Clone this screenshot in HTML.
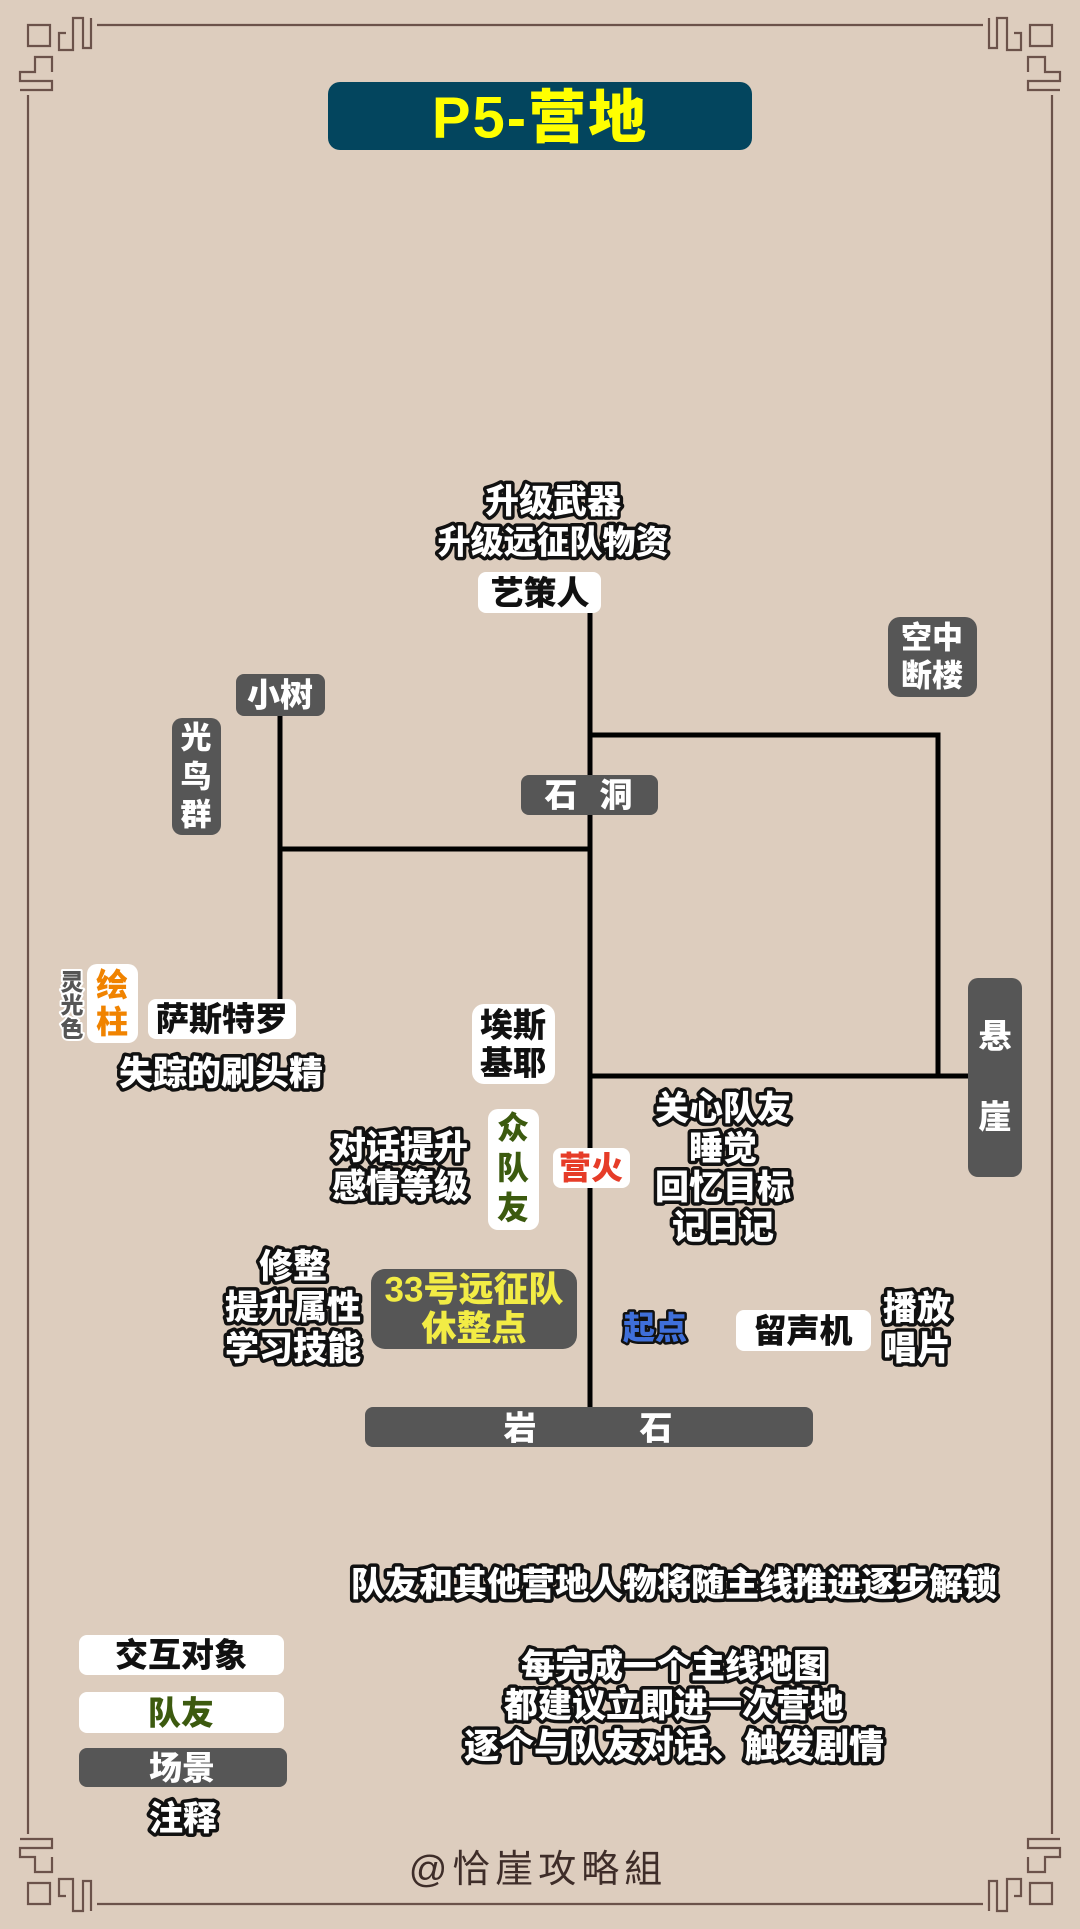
<!DOCTYPE html>
<html><head><meta charset="utf-8">
<style>
html,body{margin:0;padding:0;background:#ddcdbe;}
svg{display:block;}
text{font-family:"Liberation Sans","Noto Sans CJK SC","WenQuanYi Zen Hei",sans-serif;font-weight:900;text-anchor:middle;dominant-baseline:central;}
.o{fill:#fff;stroke:#111;stroke-width:7px;paint-order:stroke;stroke-linejoin:round;font-size:34px;}
.k{fill:#111;font-size:33px;}
.w{fill:#fff;font-size:33px;}
.orn{fill:none;stroke:#6b524a;stroke-width:2.2;}
</style></head>
<body>
<svg width="1080" height="1929" viewBox="0 0 1080 1929" xmlns="http://www.w3.org/2000/svg">
<rect width="1080" height="1929" fill="#ddcdbe"/>

<!-- border -->
<g class="orn">
  <path d="M97,25 H983"/>
  <path d="M97,1904 H983"/>
  <path d="M28,95 V1834"/>
  <path d="M1052,95 V1834"/>
</g>
<g id="corner" class="orn">
  <path d="M28,46 V25 H50 V46 Z"/>
  <path d="M66,33 H59 V50 H73 V18 H83 V48 H91 V18"/>
  <path d="M52,72 V57 H35 V72 H20 V81 H52 V90 H20"/>
</g>
<use href="#corner" transform="translate(1080,0) scale(-1,1)"/>
<use href="#corner" transform="translate(0,1929) scale(1,-1)"/>
<use href="#corner" transform="translate(1080,1929) scale(-1,-1)"/>

<!-- title -->
<rect x="328" y="82" width="424" height="68" rx="12" fill="#03455e"/>
<text x="540" y="118" fill="#ffff00" font-size="58" letter-spacing="2">P5-营地</text>

<!-- connectors -->
<g stroke="#000" stroke-width="5" fill="none">
  <path d="M590,613 V1407"/>
  <path d="M590,735 H938 V1076"/>
  <path d="M590,1076 H968"/>
  <path d="M280,716 V999"/>
  <path d="M280,849 H590"/>
</g>

<!-- top -->
<text class="o" x="553" y="502">升级武器</text>
<text class="o" x="553" y="542" style="font-size:33px">升级远征队物资</text>
<rect x="478" y="572" width="123" height="41" rx="8" fill="#fff"/>
<text class="k" x="540" y="593">艺策人</text>

<!-- 空中断楼 -->
<rect x="888" y="617" width="89" height="80" rx="12" fill="#565656"/>
<text class="w" x="932" y="638" style="font-size:31px">空中</text>
<text class="w" x="932" y="676" style="font-size:31px">断楼</text>

<!-- 石洞 -->
<rect x="521" y="775" width="137" height="40" rx="8" fill="#565656"/>
<text class="w" x="561" y="795">石</text>
<text class="w" x="616" y="795">洞</text>

<!-- 小树 -->
<rect x="236" y="674" width="89" height="42" rx="8" fill="#565656"/>
<text class="w" x="280" y="695">小树</text>

<!-- 光鸟群 -->
<rect x="172" y="718" width="49" height="117" rx="10" fill="#565656"/>
<text class="w" x="196" y="738" style="font-size:31px">光</text>
<text class="w" x="196" y="777" style="font-size:31px">鸟</text>
<text class="w" x="196" y="815" style="font-size:31px">群</text>

<!-- 灵光色 -->
<g style="fill:#555;stroke:#fff;stroke-width:4px;paint-order:stroke;stroke-linejoin:round;">
<text x="72" y="982" font-size="23">灵</text>
<text x="72" y="1005" font-size="23">光</text>
<text x="72" y="1029" font-size="23">色</text>
</g>

<!-- 绘柱 -->
<rect x="87" y="964" width="51" height="79" rx="10" fill="#fff"/>
<text x="112" y="985" fill="#f08300" font-size="32">绘</text>
<text x="112" y="1022" fill="#f08300" font-size="32">柱</text>

<!-- 萨斯特罗 -->
<rect x="148" y="999" width="148" height="40" rx="8" fill="#fff"/>
<text class="k" x="222" y="1019">萨斯特罗</text>
<text class="o" x="221" y="1074">失踪的刷头精</text>

<!-- 埃斯基耶 -->
<rect x="472" y="1004" width="83" height="80" rx="12" fill="#fff"/>
<text class="k" x="513" y="1025">埃斯</text>
<text class="k" x="513" y="1063">基耶</text>

<!-- 众队友 -->
<rect x="488" y="1109" width="51" height="121" rx="10" fill="#fff"/>
<text x="513" y="1128" fill="#3c5a0f" font-size="32">众</text>
<text x="513" y="1168" fill="#3c5a0f" font-size="32">队</text>
<text x="513" y="1208" fill="#3c5a0f" font-size="32">友</text>

<text class="o" x="400" y="1148">对话提升</text>
<text class="o" x="400" y="1187">感情等级</text>

<!-- 营火 -->
<rect x="553" y="1148" width="77" height="40" rx="8" fill="#fff"/>
<text x="591" y="1168" fill="#e63c28" font-size="32">营火</text>

<text class="o" x="723" y="1109">关心队友</text>
<text class="o" x="723" y="1149">睡觉</text>
<text class="o" x="723" y="1188">回忆目标</text>
<text class="o" x="723" y="1228">记日记</text>

<!-- 悬崖 -->
<rect x="968" y="978" width="54" height="199" rx="10" fill="#565656"/>
<text class="w" x="995" y="1036">悬</text>
<text class="w" x="995" y="1117">崖</text>

<!-- 修整 -->
<text class="o" x="293" y="1267">修整</text>
<text class="o" x="293" y="1308">提升属性</text>
<text class="o" x="293" y="1349">学习技能</text>

<!-- 33号 -->
<rect x="371" y="1269" width="206" height="80" rx="14" fill="#565656"/>
<text x="474" y="1290" fill="#f2ec45" font-size="35">33号远征队</text>
<text x="474" y="1329" fill="#f2ec45" font-size="35">休整点</text>

<!-- 起点 -->
<text x="655" y="1328" font-size="32" style="fill:#3f6fd9;stroke:#111;stroke-width:5px;paint-order:stroke;stroke-linejoin:round;">起点</text>

<!-- 留声机 -->
<rect x="736" y="1310" width="135" height="41" rx="8" fill="#fff"/>
<text class="k" x="803" y="1331">留声机</text>
<text class="o" x="917" y="1309">播放</text>
<text class="o" x="917" y="1349">唱片</text>

<!-- 岩石 -->
<rect x="365" y="1407" width="448" height="40" rx="8" fill="#565656"/>
<text class="w" x="520" y="1428">岩</text>
<text class="w" x="656" y="1428">石</text>

<!-- bottom notes -->
<text class="o" x="674" y="1585" style="font-size:34px">队友和其他营地人物将随主线推进逐步解锁</text>

<rect x="79" y="1635" width="205" height="40" rx="8" fill="#fff"/>
<text class="k" x="181" y="1655">交互对象</text>
<rect x="79" y="1692" width="205" height="41" rx="8" fill="#fff"/>
<text x="181" y="1713" fill="#3c5a0f" font-size="33">队友</text>
<rect x="79" y="1748" width="208" height="39" rx="8" fill="#565656"/>
<text class="w" x="182" y="1768">场景</text>
<text class="o" x="183" y="1819">注释</text>

<text class="o" x="674" y="1667">每完成一个主线地图</text>
<text class="o" x="674" y="1706">都建议立即进一次营地</text>
<text class="o" x="674" y="1747" style="font-size:35px">逐个与队友对话、触发剧情</text>

<text x="538" y="1870" fill="#3e2d29" font-size="38" style="font-weight:normal" letter-spacing="5">@恰崖攻略組</text>
</svg>
</body></html>
